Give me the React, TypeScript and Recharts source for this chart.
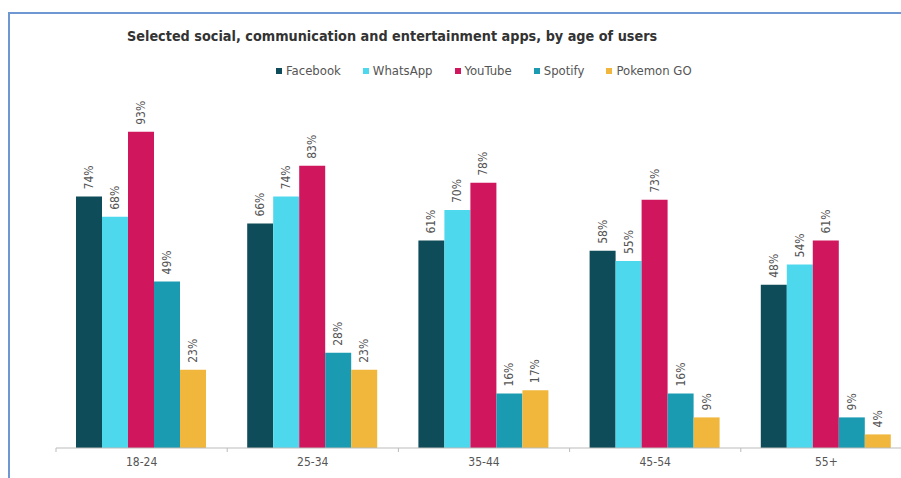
import React from "react";
import { BarChart, Bar, XAxis, YAxis, LabelList, Legend } from "recharts";

const ageGroups = ["18-24", "25-34", "35-44", "45-54", "55+"];
const facebook = [74, 66, 61, 58, 48];
const whatsapp = [68, 74, 70, 55, 54];
const youtube = [93, 83, 78, 73, 61];
const spotify = [49, 28, 16, 16, 9];
const pokemonGo = [23, 23, 17, 9, 4];

const seriesNames = ["Facebook", "WhatsApp", "YouTube", "Spotify", "Pokemon GO"];
const seriesColors = ["#0f4c59", "#4ed8ee", "#d0175d", "#1a9bb1", "#f0b73c"];
const seriesValues = [facebook, whatsapp, youtube, spotify, pokemonGo];

const data = ageGroups.map((age, i) => {
  const row: Record<string, string | number> = { age };
  seriesNames.forEach((name, s) => {
    row[name] = seriesValues[s][i];
  });
  return row;
});

const NARROW = "'Liberation Sans Narrow', 'DejaVu Sans Condensed', Arial, sans-serif";

const RotatedLabel = (props: any) => {
  const { x, y, width, value } = props;
  const cx = x + width / 2;
  const ty = y - 7;
  return (
    <text
      x={cx}
      y={ty}
      transform={`rotate(-90, ${cx}, ${ty})`}
      textAnchor="start"
      dominantBaseline="central"
      fontFamily={NARROW}
      fontSize={12}
      fill="#555"
    >
      {`${value}%`}
    </text>
  );
};

const CategoryTick = (props: any) => {
  const { x, y, payload, width, visibleTicksCount, index } = props;
  const half = width / visibleTicksCount / 2;
  return (
    <g>
      <line x1={x - half} y1={y - 8} x2={x - half} y2={y - 4} stroke="#bbb" />
      {index === visibleTicksCount - 1 ? (
        <line x1={x + half} y1={y - 8} x2={x + half} y2={y - 4} stroke="#bbb" />
      ) : null}
      <text x={x} y={y + 10} textAnchor="middle" fontFamily={NARROW} fontSize={12} fill="#555">
        {payload.value}
      </text>
    </g>
  );
};

const LegendContent = () => (
  <div style={{ display: "flex", alignItems: "center", fontFamily: NARROW, fontSize: 13, color: "#555" }}>
    {seriesNames.map((name, i) => (
      <div key={name} style={{ display: "flex", alignItems: "center", marginRight: 22 }}>
        <span
          style={{ display: "inline-block", width: 6, height: 6, background: seriesColors[i], marginRight: 4 }}
        />
        <span>{name}</span>
      </div>
    ))}
  </div>
);

export default function App() {
  return (
    <div
      style={{
        position: "absolute",
        left: 0,
        top: 0,
        width: 901,
        height: 478,
        overflow: "hidden",
        background: "#fff",
      }}
    >
      <div
        style={{
          position: "absolute",
          left: 8,
          top: 12,
          width: 920,
          height: 480,
          borderTop: "2px solid #6f98d2",
          borderLeft: "2px solid #6f98d2",
        }}
      />
      <div
        style={{
          position: "absolute",
          left: 127,
          top: 28,
          fontFamily: NARROW,
          fontWeight: "bold",
          fontSize: 14.3,
          color: "#333",
          whiteSpace: "nowrap",
        }}
      >
        Selected social, communication and entertainment apps, by age of users
      </div>
      <div style={{ position: "absolute", left: 0, top: 0 }}>
        <BarChart
          width={920}
          height={478}
          data={data}
          margin={{ top: 108, right: 8, bottom: 0, left: 56 }}
          barCategoryGap={20}
          barGap={0}
        >
          <XAxis
            dataKey="age"
            height={30}
            axisLine={{ stroke: "#bbb" }}
            tickLine={false}
            tick={<CategoryTick />}
            interval={0}
          />
          <YAxis hide domain={[0, 100]} />
          <Legend
            verticalAlign="middle"
            align="center"
            content={<LegendContent />}
            wrapperStyle={{ position: "absolute", top: 63, left: 276, width: "auto" }}
          />
          {seriesNames.map((name, i) => (
            <Bar key={name} dataKey={name} fill={seriesColors[i]} isAnimationActive={false}>
              <LabelList dataKey={name} content={<RotatedLabel />} />
            </Bar>
          ))}
        </BarChart>
      </div>
    </div>
  );
}
